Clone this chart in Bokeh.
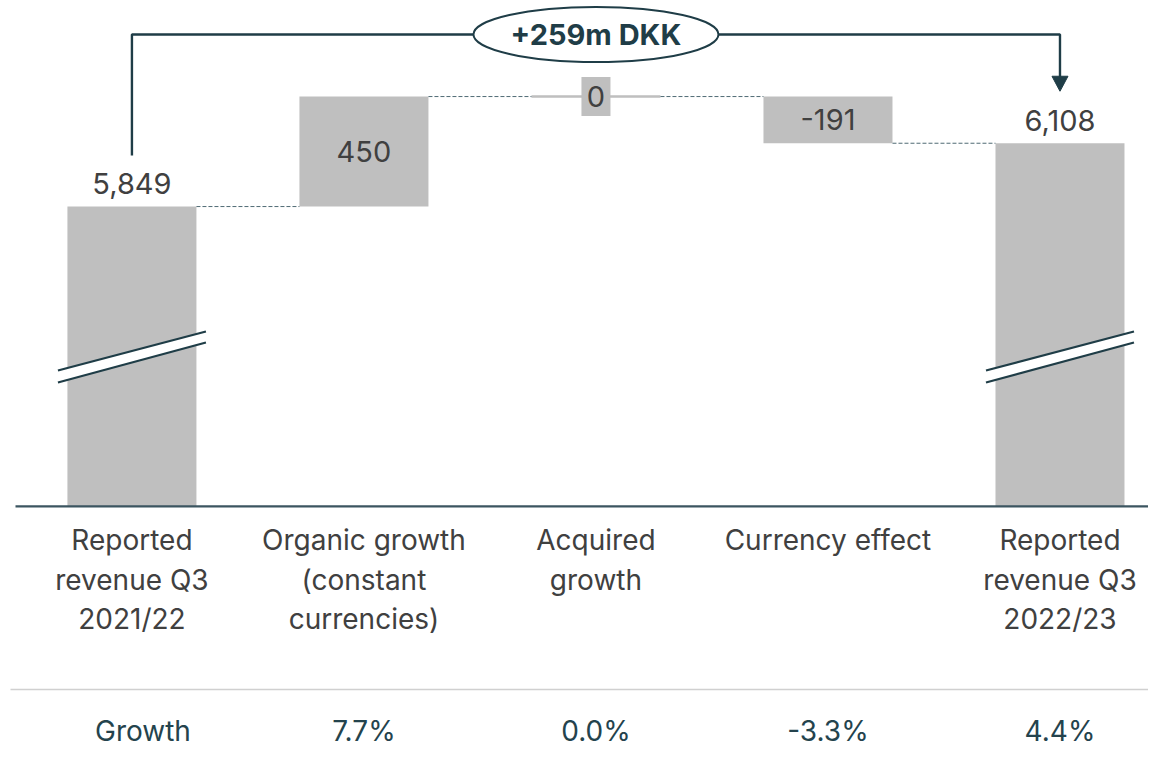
from bokeh.plotting import figure
from bokeh.models import Range1d
from bokeh.embed import file_html
from bokeh.resources import INLINE
from bokeh.core.properties import value

# ---------------- data ----------------
categories = [
    "Reported\nrevenue Q3\n2021/22",
    "Organic growth\n(constant\ncurrencies)",
    "Acquired\ngrowth",
    "Currency effect",
    "Reported\nrevenue Q3\n2022/23",
]
values = [5849, 450, 0, -191, 6108]
kinds = ["total", "delta", "delta", "delta", "total"]
value_labels = ["5,849", "450", "0", "-191", "6,108"]
growth_row = ["Growth", "7.7%", "0.0%", "-3.3%", "4.4%"]
bridge_text = "+259m DKK"
axis_floor = 4622  # value sitting on the (broken) baseline

# ---------------- styling ----------------
FONT = "Inter"
BAR = "#bfbfbf"
TXT = "#404040"
TEAL = "#1f3d47"
LINE = "#3b5560"

W, H = 1148, 746
X0, X1 = -0.5665, 4.3815
Y0, Y1 = 3640, 6692
ux = (X1 - X0) / W
uy = (Y1 - Y0) / H


def dx(px):
    return px * ux


def dy(px):
    return px * uy


def ypx(py):  # pixel row -> value
    return Y1 - py * uy


def xpx(px):  # pixel column -> x
    return X0 + px * ux


p = figure(width=W, height=H, x_range=Range1d(X0, X1), y_range=Range1d(Y0, Y1),
           output_backend="svg", toolbar_location=None, min_border=0)
p.axis.visible = False
p.grid.visible = False
p.outline_line_color = None
p.background_fill_color = "white"
p.border_fill_color = "white"

xs = list(range(len(values)))
bw = 129 / 232

bottoms, tops, ends = [], [], []
running = 0
for v, k in zip(values, kinds):
    if k == "total":
        bottoms.append(axis_floor)
        tops.append(v)
        running = v
    else:
        lo, hi = sorted([running, running + v])
        bottoms.append(lo)
        tops.append(hi)
        running = running + v
    ends.append(running)

nz = [i for i in xs if values[i] != 0]
z = [i for i in xs if values[i] == 0]
p.vbar(x=[xs[i] for i in nz], bottom=[bottoms[i] for i in nz], top=[tops[i] for i in nz],
       width=bw, fill_color=BAR, line_color=None)
p.vbar(x=[xs[i] for i in z], bottom=[bottoms[i] for i in z], top=[tops[i] for i in z],
       width=bw, fill_color=BAR, line_color=BAR, line_width=2.5)

# connectors
for i in range(len(xs) - 1):
    p.segment(x0=xs[i] + bw / 2, x1=xs[i + 1] - bw / 2, y0=ends[i], y1=ends[i],
              line_color="#4f6a74", line_width=1, line_dash="4 2")

# baseline and divider
p.segment(x0=xpx(15), x1=X1, y0=axis_floor, y1=axis_floor, line_color=LINE, line_width=2.2)
p.segment(x0=xpx(10), x1=X1, y0=ypx(689), y1=ypx(689), line_color="#d0d0d0", line_width=1.5)

# axis breaks on total bars
for i in xs:
    if kinds[i] != "total":
        continue
    xa, xb = xs[i] - dx(74), xs[i] + dx(74)
    up_a, up_b = ypx(370), ypx(331)
    lo_a, lo_b = ypx(382), ypx(342)
    p.patch(x=[xa, xb, xb, xa], y=[up_a, up_b, lo_b, lo_a], fill_color="white", line_color=None)
    p.segment(x0=xa, x1=xb, y0=up_a, y1=up_b, line_color=TEAL, line_width=2.2)
    p.segment(x0=xa, x1=xb, y0=lo_a, y1=lo_b, line_color=TEAL, line_width=2.2)

# value labels
for i in xs:
    if kinds[i] == "total":
        ly = tops[i] + dy(23)
    elif values[i] == 0:
        ly = tops[i]
        p.rect(x=xs[i], y=ly, width=29, height=39, width_units="screen", height_units="screen",
               fill_color=BAR, line_color=None)
    else:
        ly = (bottoms[i] + tops[i]) / 2
    p.text(x=[xs[i]], y=[ly], text=[value_labels[i]], text_align="center", text_baseline="middle",
           text_font=value(FONT), text_font_size="29px", text_color=TXT)

# category labels
p.text(x=xs, y=[axis_floor - dy(17)] * len(xs), text=categories, text_align="center",
       text_baseline="top", text_font=value(FONT), text_font_size="28px", text_color=TXT,
       text_line_height=1.16)

# growth row
gx = [xs[0] + dx(11)] + xs[1:]
p.text(x=gx, y=[ypx(730)] * len(xs), text=growth_row, text_align="center", text_baseline="middle",
       text_font=value(FONT), text_font_size="28px", text_color="#24434d")

# bridge bracket
first, last = xs[0], xs[-1]
top_y = ypx(34)
start_y = tops[first] + dy(51)
tip_y = tops[last] + dy(52)
p.line(x=[first, first, last, last], y=[start_y, top_y, top_y, tip_y + dy(14)],
       line_color=TEAL, line_width=2.4)
p.patch(x=[last - dx(8), last + dx(8), last], y=[tip_y + dy(15), tip_y + dy(15), tip_y],
        fill_color=TEAL, line_color=TEAL)
mid = (first + last) / 2
p.ellipse(x=[mid], y=[top_y], width=245, height=55, width_units="screen", height_units="screen",
          fill_color="white", line_color=TEAL, line_width=2)
p.text(x=[mid], y=[top_y], text=[bridge_text], text_align="center", text_baseline="middle",
       text_font=value(FONT), text_font_size="29px", text_font_style="bold", text_color=TEAL)

open("out.html", "w").write(file_html(p, INLINE))
